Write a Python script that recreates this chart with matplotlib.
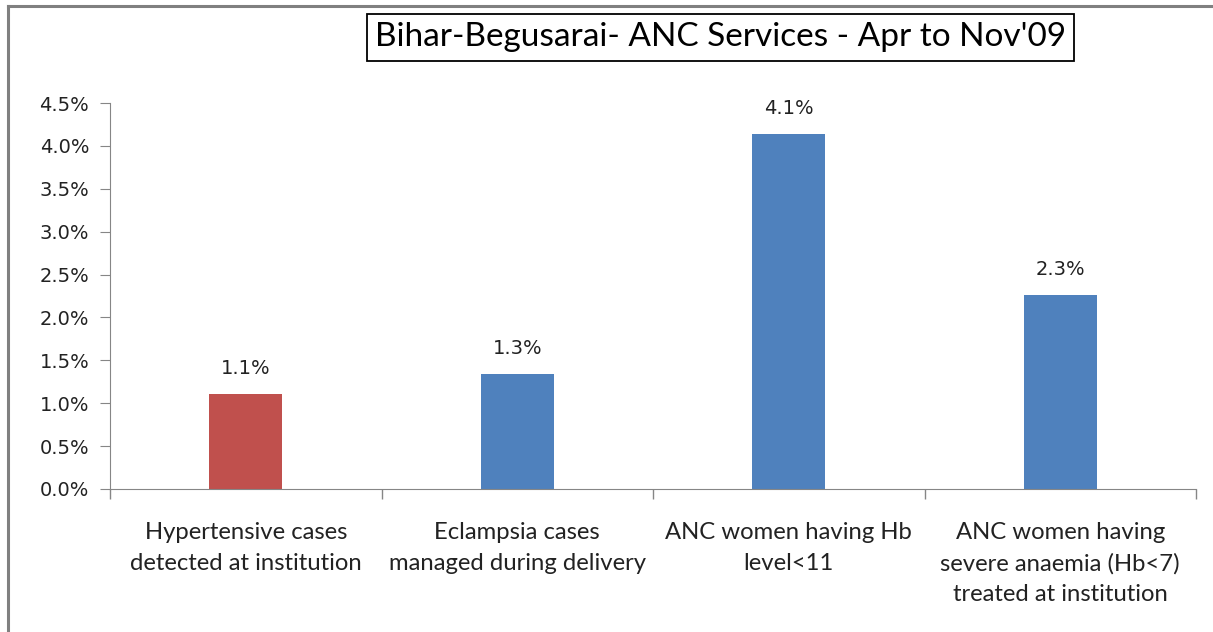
import numpy as np
import matplotlib.pyplot as plt
from matplotlib.lines import Line2D
from matplotlib.ticker import FuncFormatter

plt.rcParams['font.family'] = ['Lato', 'DejaVu Sans']

categories = ['Hypertensive cases\ndetected at institution',
              'Eclampsia cases\nmanaged during delivery',
              'ANC women having Hb\nlevel<11',
              'ANC women having\nsevere anaemia (Hb<7)\ntreated at institution']
values = [1.11, 1.34, 4.14, 2.26]
colors = ['#C0504D', '#4F81BD', '#4F81BD', '#4F81BD']
yticks = [0.0, 0.5, 1.0, 1.5, 2.0, 2.5, 3.0, 3.5, 4.0, 4.5]

fig = plt.figure(figsize=(12.13, 6.32), dpi=100)
ax = fig.add_axes([0.0907, 0.2263, 0.8953, 0.6107])

x = np.arange(len(categories))
ax.bar(x, values, width=0.27, color=colors, zorder=2)
for xi, v in zip(x, values):
    ax.text(xi, v + 0.30, f'{v:.1f}%', ha='center', va='center',
            fontsize=14, color='#222222', family='DejaVu Sans')

ax.set_xlim(-0.5, len(categories) - 0.5)
ax.set_ylim(0, 4.5)
ax.set_yticks(yticks)
ax.yaxis.set_major_formatter(FuncFormatter(lambda v, p: f'{v:.1f}%'))

ax.set_xticks(x)
ax.set_xticklabels(categories, fontsize=17.2, color='#222222', linespacing=1.55)
ax.set_xticks(np.arange(len(categories) + 1) - 0.5, minor=True)
ax.tick_params(axis='x', which='major', length=0, pad=24)
ax.tick_params(axis='x', which='minor', length=7, color='#868686', width=1)
ax.tick_params(axis='y', length=7, color='#868686', labelcolor='#222222', pad=8)
for lab in ax.get_yticklabels():
    lab.set_family('DejaVu Sans')
    lab.set_fontsize(14)
for lab in ax.get_xticklabels():
    lab.set_verticalalignment('top')

for s in ['top', 'right']:
    ax.spines[s].set_visible(False)
for s in ['left', 'bottom']:
    ax.spines[s].set_color('#868686')

fig.text(0.594, 0.941, "Bihar-Begusarai- ANC Services - Apr to Nov'09",
         ha='center', va='center', fontsize=24, color='black',
         bbox=dict(boxstyle='square,pad=0.25', fc='white', ec='black', lw=1.3))

# outer chart frame: only top and left edges are visible
fig.add_artist(Line2D([0.0066, 1.0], [0.991, 0.991], transform=fig.transFigure,
                      color='#808080', lw=2.2))
fig.add_artist(Line2D([0.0066, 0.0066], [0.0, 0.991], transform=fig.transFigure,
                      color='#808080', lw=2.2))

fig.savefig('out.png', dpi=100)
